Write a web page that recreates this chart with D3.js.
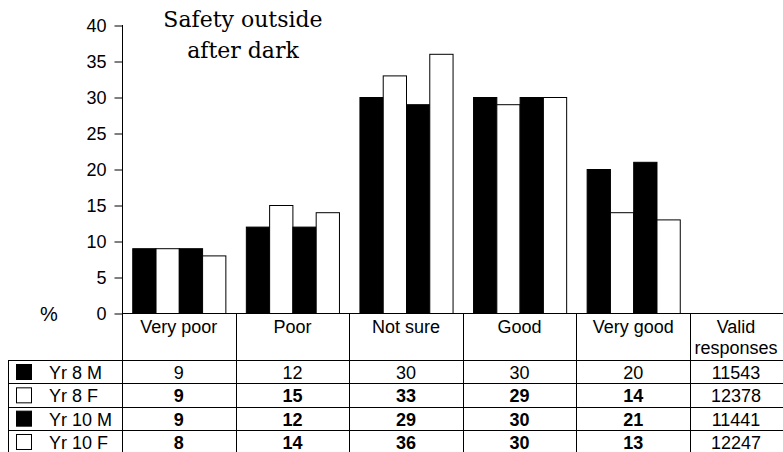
<!DOCTYPE html>
<html><head><meta charset="utf-8">
<script src="https://cdn.jsdelivr.net/npm/d3@7"></script>
<style>
html,body{margin:0;padding:0;background:#fff;}
svg{display:block;}
</style></head>
<body>
<script>
const categories = ["Very poor", "Poor", "Not sure", "Good", "Very good"];
const seriesNames = ["Yr 8 M", "Yr 8 F", "Yr 10 M", "Yr 10 F"];
const seriesFill = ["#000", "#fff", "#000", "#fff"];
const yr8M = [9, 12, 30, 30, 20];
const yr8F = [9, 15, 33, 29, 14];
const yr10M = [9, 12, 29, 30, 21];
const yr10F = [8, 14, 36, 30, 13];
const validResponses = [11543, 12378, 11441, 12247];
const yTicks = [0, 5, 10, 15, 20, 25, 30, 35, 40];
const titleLines = ["Safety outside", "after dark"];
const validHeader = ["Valid", "responses"];

const seriesValues = [yr8M, yr8F, yr10M, yr10F];
const SANS = '"Liberation Sans",Arial,sans-serif';

const W = 783, H = 452;
const svg = d3.select("body").append("svg").attr("width", W).attr("height", H)
  .style("font-family", SANS);

const axisX = 122, tableRight = 690;
const y = d3.scaleLinear().domain([0, 40]).range([313, 25]);
const x0 = d3.scaleBand().domain(categories).range([axisX, tableRight]).padding(0);
const x1 = d3.scaleBand().domain(seriesNames).range([0, x0.bandwidth()]).paddingInner(0).paddingOuter(0.44);

// bars
const g = svg.append("g");
categories.forEach((c, ci) => {
  seriesNames.forEach((s, si) => {
    const v = seriesValues[si][ci];
    g.append("rect")
      .attr("x", x0(c) + x1(s) + 0.5)
      .attr("y", y(v) + 0.5)
      .attr("width", x1.bandwidth())
      .attr("height", y(0) - y(v))
      .attr("fill", seriesFill[si])
      .attr("stroke", "#000")
      .attr("stroke-width", 1);
  });
});

// y axis
const yAxis = d3.axisLeft(y).tickValues(yTicks).tickSize(8).tickPadding(8);
const ya = svg.append("g").attr("transform", `translate(${axisX + 0.5},0.5)`).call(yAxis);
ya.select(".domain").remove();
ya.selectAll("line").attr("stroke", "#000");
ya.selectAll("text").style("font-family", SANS).style("font-size", "18px").attr("dy", "0.35em");

// axis line extended into table
svg.append("line").attr("x1", axisX + 0.5).attr("x2", axisX + 0.5).attr("y1", y(40)).attr("y2", H + 2).attr("stroke", "#000");
// baseline
svg.append("line").attr("x1", axisX).attr("x2", W).attr("y1", y(0) + 0.5).attr("y2", y(0) + 0.5).attr("stroke", "#000");

// title
const title = svg.append("text").attr("text-anchor", "middle")
  .style("font-family", '"DejaVu Serif",serif').style("font-size", "22px");
titleLines.forEach((t, i) => {
  title.append("tspan").attr("x", 243).attr("y", 27 + i * 31).text(t);
});

// % label
svg.append("text").attr("x", 49).attr("y", 321).attr("text-anchor", "middle").style("font-size", "20px").text("%");

// table
const rowTop = 360, rowH = 23.33;
const rowY = d3.range(seriesNames.length + 1).map(i => rowTop + i * rowH);
const colEdges = categories.map(c => x0(c)).concat([tableRight]);

rowY.forEach(yy => {
  svg.append("line").attr("x1", 8).attr("x2", W).attr("y1", Math.round(yy) + 0.5).attr("y2", Math.round(yy) + 0.5).attr("stroke", "#000");
});
colEdges.slice(1).forEach(xx => {
  svg.append("line").attr("x1", Math.round(xx) + 0.5).attr("x2", Math.round(xx) + 0.5).attr("y1", y(0)).attr("y2", H + 2).attr("stroke", "#000");
});
svg.append("line").attr("x1", 8.5).attr("x2", 8.5).attr("y1", rowTop).attr("y2", H + 2).attr("stroke", "#000");

// header
categories.forEach(c => {
  svg.append("text").attr("x", x0(c) + x0.bandwidth() / 2).attr("y", 333)
    .attr("text-anchor", "middle").style("font-size", "18px").text(c);
});
validHeader.forEach((t, i) => {
  svg.append("text").attr("x", 736).attr("y", 333 + i * 21).attr("text-anchor", "middle").style("font-size", "18px").text(t);
});

// rows
seriesNames.forEach((s, si) => {
  const top = rowY[si];
  svg.append("rect").attr("x", 16.5).attr("y", top + 4.5).attr("width", 15).attr("height", 15)
    .attr("fill", seriesFill[si]).attr("stroke", "#000");
  svg.append("text").attr("x", 49).attr("y", top + 19).style("font-size", "18px").text(s);
  categories.forEach((c, ci) => {
    svg.append("text").attr("x", x0(c) + x0.bandwidth() / 2).attr("y", top + 19)
      .attr("text-anchor", "middle").style("font-size", "18px")
      .style("font-weight", si > 0 ? "bold" : "normal")
      .text(seriesValues[si][ci]);
  });
  svg.append("text").attr("x", 736).attr("y", top + 19).attr("text-anchor", "middle").style("font-size", "18px").text(validResponses[si]);
});
</script>
</body></html>
